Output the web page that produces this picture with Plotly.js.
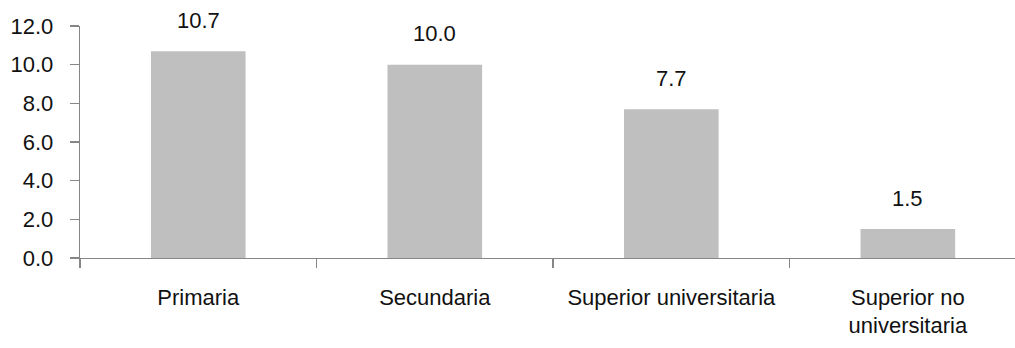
<!DOCTYPE html>
<html>
<head>
<meta charset="utf-8">
<script src="https://cdn.plot.ly/plotly-3.0.1.min.js"></script>
<style>html,body{margin:0;padding:0;background:#fff;}#chart{width:1015px;height:348px;}</style>
</head>
<body>
<div id="chart"></div>
<script>
const categories = ["Primaria", "Secundaria", "Superior universitaria", "Superior no<br>universitaria"];
const values = [10.7, 10.0, 7.7, 1.5];
const yTickVals = [0, 2, 4, 6, 8, 10, 12];
const yTickText = ["0.0", "2.0", "4.0", "6.0", "8.0", "10.0", "12.0"];

const FONT = "Liberation Sans, Arial, sans-serif";
const TXT = "#111111";
const AX = "#868686";

const trace = {
  type: "bar",
  x: categories,
  y: values,
  width: 0.4,
  marker: {color: "#BFBFBF"},
  hoverinfo: "none"
};

const annotations = categories.map((c, i) => ({
  x: c, y: values[i], xref: "x", yref: "y",
  text: values[i].toFixed(1),
  showarrow: false, yanchor: "middle", yshift: 31,
  font: {family: FONT, size: 22, color: TXT}
}));

const layout = {
  width: 1015, height: 348,
  margin: {l: 80, r: 0, t: 26, b: 90},
  paper_bgcolor: "#fff", plot_bgcolor: "#fff",
  showlegend: false,
  font: {family: FONT, size: 22, color: TXT},
  xaxis: {
    type: "category",
    range: [-0.5, 3.453],
    showline: true, linecolor: AX, linewidth: 1.3,
    ticks: "outside", tickson: "boundaries", ticklen: 9, tickcolor: AX, tickwidth: 1.3,
    ticklabelstandoff: 19,
    showgrid: false, zeroline: false,
    tickfont: {family: FONT, size: 22, color: TXT}
  },
  yaxis: {
    range: [0, 12],
    tickvals: yTickVals, ticktext: yTickText,
    showline: true, linecolor: AX, linewidth: 1.3,
    ticks: "outside", ticklen: 9, tickcolor: AX, tickwidth: 1.3,
    ticklabelstandoff: 12,
    showgrid: false, zeroline: false,
    tickfont: {family: FONT, size: 22, color: TXT}
  },
  annotations: annotations
};

Plotly.newPlot("chart", [trace], layout, {displayModeBar: false, staticPlot: true});
</script>
</body>
</html>
